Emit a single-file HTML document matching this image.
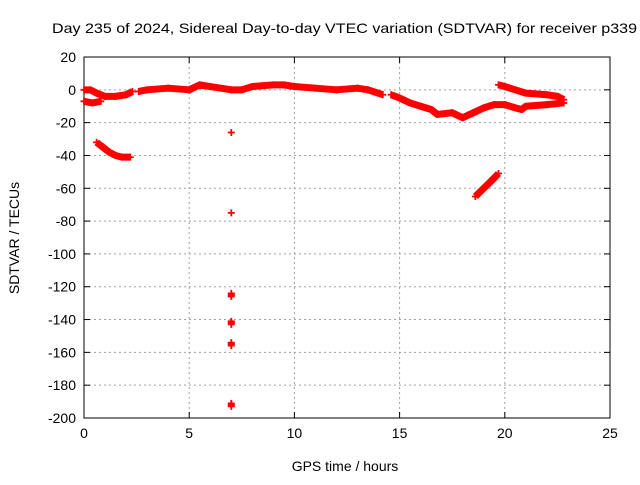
<!DOCTYPE html>
<html><head><meta charset="utf-8"><style>
body{margin:0;background:#fff;}
svg text{font-family:"Liberation Sans",sans-serif;font-size:14px;fill:#000;}
</style></head><body>
<svg id="chart" width="640" height="480" xmlns="http://www.w3.org/2000/svg">
<rect width="640" height="480" fill="#fff"/>
<g id="grid"></g>
<g id="axes"></g>
<g id="series"></g>
<text x="52" y="33" textLength="585" lengthAdjust="spacingAndGlyphs">Day 235 of 2024, Sidereal Day-to-day VTEC variation (SDTVAR) for receiver p339</text>
<text x="345" y="471" text-anchor="middle">GPS time / hours</text>
<text x="0" y="0" text-anchor="middle" transform="translate(19,238) rotate(-90)">SDTVAR / TECUs</text>
</svg>
<script>
const xTicks=[0,5,10,15,20,25];
const yTicks=[20,0,-20,-40,-60,-80,-100,-120,-140,-160,-180,-200];
const trackA=[[0,-7],[0.4,-8],[0.8,-7]];
const trackB=[[0,0],[0.3,0],[0.6,-2],[1,-4],[1.5,-4],[2,-3],[2.3,-1]];
const trackC=[[0.6,-32],[0.9,-35],[1.2,-38],[1.5,-40],[1.8,-41],[2.2,-41]];
const trackD=[[2.6,-1],[3,0],[4,1],[5,0],[5.5,3],[6,2],[7,0],[7.5,0],[8,2],[9,3],[9.5,3],[10,2],[11,1],[12,0],[13,1],[13.5,0],[14.2,-3]];
const trackE=[[14.6,-3],[15,-5],[15.5,-8],[16,-10],[16.5,-12],[16.8,-15],[17.5,-14],[18,-17],[18.5,-14],[19,-11],[19.5,-9],[20,-9],[20.5,-11],[20.8,-12],[21,-10],[22,-9],[22.8,-8]];
const trackF=[[19.7,3],[20,2],[20.5,0],[21,-2],[22,-3],[22.5,-4],[22.8,-6]];
const trackG=[[18.6,-65],[19,-60],[19.4,-55],[19.7,-51]];
const isolated=[[7,-26],[7,-75],[7,-125],[7,-142],[7,-155],[7,-192]];
const NS="http://www.w3.org/2000/svg";
const X0=84,X1=610,Y0=418,Y1=57;
const xs=t=>X0+(t-0)/25*(X1-X0);
const ys=v=>Y0-(v+200)/220*(Y0-Y1);
function mk(tag,attrs,parent){const e=document.createElementNS(NS,tag);for(const k in attrs)e.setAttribute(k,attrs[k]);parent.appendChild(e);return e;}
const grid=document.getElementById('grid'),axes=document.getElementById('axes'),ser=document.getElementById('series');
xTicks.forEach(t=>{
  if(t>0&&t<25){const l=mk('line',{x1:xs(t),x2:xs(t),y1:Y1,y2:Y0,stroke:'#a0a0a0','stroke-dasharray':'2,3'},grid);
  
  }
  mk('line',{x1:xs(t),x2:xs(t),y1:Y0,y2:Y0-6,stroke:'#000'},axes);
  mk('line',{x1:xs(t),x2:xs(t),y1:Y1,y2:Y1+6,stroke:'#000'},axes);
  const tx=mk('text',{x:xs(t),y:Y0+20,'text-anchor':'middle'},axes);tx.textContent=t;
  
  
});
yTicks.forEach(v=>{
  if(v<20&&v>-200){const l=mk('line',{x1:X0,x2:X1,y1:ys(v),y2:ys(v),stroke:'#a0a0a0','stroke-dasharray':'2,3'},grid);
  
  }
  mk('line',{x1:X0,x2:X0+6,y1:ys(v),y2:ys(v),stroke:'#000'},axes);
  mk('line',{x1:X1,x2:X1-6,y1:ys(v),y2:ys(v),stroke:'#000'},axes);
  const tx=mk('text',{x:X0-8,y:ys(v)+5,'text-anchor':'end'},axes);tx.textContent=v;
  
  
});
mk('rect',{x:X0,y:Y1,width:X1-X0,height:Y0-Y1,fill:'none',stroke:'#000'},axes);
function plus(t,v,dy){const x=xs(t),y=ys(v)+(dy||0);
  const p=mk('path',{d:`M${x-3.5},${y}h7M${x},${y-3.5}v7`,stroke:'#f00','stroke-width':1.8,fill:'none'},ser);
  
  }
[trackA,trackB,trackC,trackD,trackE,trackF,trackG].forEach(tr=>{
  const pl=mk('polyline',{points:tr.map(p=>xs(p[0])+','+ys(p[1])).join(' '),stroke:'#f00','stroke-width':7,fill:'none','stroke-linejoin':'round'},ser);
  
  
  tr.forEach(p=>plus(p[0],p[1]));
});
isolated.forEach((p,i)=>{plus(p[0],p[1]);if(i>1){plus(p[0],p[1],-1.5);plus(p[0],p[1],1.5);}});
</script>
</body></html>
